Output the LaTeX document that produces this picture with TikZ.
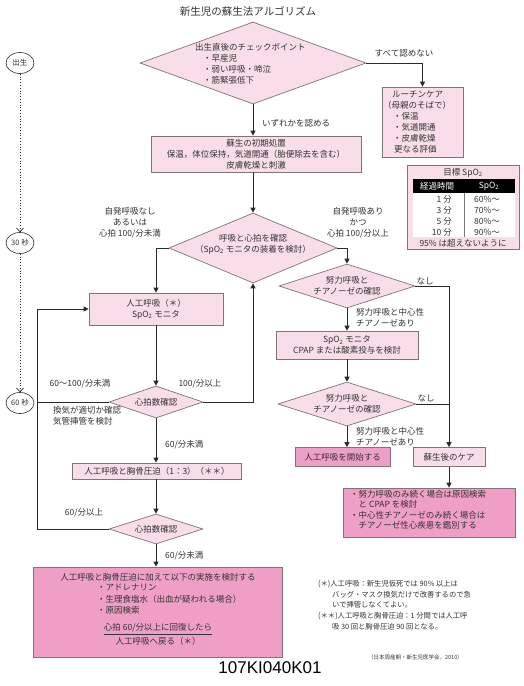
\documentclass[tikz,border=0pt]{standalone}
\usepackage{fontspec}
\newfontfamily\jp{Noto Sans CJK JP}
\newfontfamily\lat{Liberation Sans}
\usetikzlibrary{shapes.geometric,arrows.meta,calc}
\definecolor{pinkL}{HTML}{F9DEE9}
\definecolor{pinkD}{HTML}{EF9FC5}
\definecolor{bordc}{HTML}{7F7479}
\definecolor{linec}{HTML}{2A2A2A}
\definecolor{textc}{HTML}{333333}
\begin{document}
\begin{tikzpicture}[x=1pt,y=-1pt,
  font=\jp\fontsize{8.5}{11}\selectfont, text=textc,
  box/.style={draw=bordc, line width=0.7pt, fill=pinkL, inner sep=0pt, align=center},
  boxd/.style={box, fill=pinkD},
  dia/.style={diamond, draw=bordc, line width=0.7pt, fill=pinkL, inner sep=0pt},
  lbl/.style={inner sep=0pt, align=center},
  arr/.style={draw=linec, line width=1pt, -{Triangle[length=5pt,width=5pt]}},
  ln/.style={draw=linec, line width=1pt},
  tl/.style={ellipse, draw=linec, line width=0.6pt, minimum width=28pt, minimum height=21pt, inner sep=0pt, font=\jp\fontsize{7.5}{9}\selectfont},
  dotarr/.style={draw=linec, line width=0.8pt, dotted, -{Straight Barb[length=3.5pt,width=7pt]}}
]
\useasboundingbox (0,0) rectangle (523,686);
\fill[white] (0,0) rectangle (523,686);

% title
\node[lbl, font=\jp\fontsize{10.5}{12}\selectfont] (title) at (248,11) {新生児の蘇生法アルゴリズム};

% timeline
\node[tl] (t0) at (20,63) {出生};
\node[tl] (t1) at (20,243) {30 秒};
\node[tl] (t2) at (20,403) {60 秒};
\draw[dotarr] (t0) -- (t1);
\draw[dotarr] (t1) -- (t2);

% first diamond
\node[dia, minimum width=226pt, minimum height=82pt] (d1) at (253,63) {};
\node[lbl, align=left, anchor=west] (d1t) at (195,63.5) {出生直後のチェックポイント\\\hspace*{8pt}・早産児\\\hspace*{8pt}・弱い呼吸・啼泣\\\hspace*{8pt}・筋緊張低下};

% routine care
\node[box, minimum width=81pt, minimum height=70pt] (rc) at (422.5,122) {};
\node[lbl, align=left, anchor=west] (rct) at (383,121.5) {\hspace*{9pt}ルーチンケア\\（母親のそばで）\\\hspace*{10pt}・保温\\\hspace*{10pt}・気道開通\\\hspace*{10pt}・皮膚乾燥\\\hspace*{11pt}更なる評価};
\node[lbl] (l1) at (404,53) {すべて認めない};
\draw[arr] (d1.east) -| (rc.north);

% initial steps
\node[box, minimum width=210pt, minimum height=36pt] (b1) at (256,154) {蘇生の初期処置\\保温，体位保持，気道開通（胎便除去を含む）\\皮膚乾燥と刺激};
\draw[arr] (d1.south) -- (d1.south |- b1.north);
\node[lbl] (l2) at (296,123) {いずれかを認める};

% second diamond
\node[dia, minimum width=168pt, minimum height=70pt] (d2) at (253,248) {};
\node[lbl] (d2t) at (253,244) {呼吸と心拍を確認\\（SpO\textsubscript{2} モニタの装着を検討）};
\draw[arr] (d2.north |- b1.south) -- (d2.north);
\node[lbl] (l3) at (130,222.5) {自発呼吸なし\\あるいは\\心拍 100/分未満};
\node[lbl] (l4) at (358,222.5) {自発呼吸あり\\かつ\\心拍 100/分以上};

% left column
\node[box, minimum width=134pt, minimum height=32pt] (b2) at (156,309) {人工呼吸（＊）\\SpO\textsubscript{2} モニタ};
\draw[arr] (d2.west) -| (b2.north);

\node[dia, minimum width=94pt, minimum height=32pt] (d3) at (156,402) {};
\node[lbl] (d3t) at (d3) {心拍数確認};
\draw[arr] (b2.south) -- (d3.north);
\draw[arr] (d3.east) -| (d2.south);
\node[lbl] (l5) at (200,384) {100/分以上};
\coordinate (lp) at (37,0);
\draw[ln] (d3.west) -- (d3.west -| lp);
\node[lbl] (l6) at (80,384) {60〜100/分未満};
\node[lbl, align=left, anchor=west] (l7) at (53,415.5) {換気が適切か確認\\気管挿管を検討};

\node[box, minimum width=169pt, minimum height=16pt] (b3) at (157,471) {人工呼吸と胸骨圧迫（1：3）（＊＊）};
\draw[arr] (d3.south) -- (d3.south |- b3.north);
\node[lbl, anchor=west] (l8) at (165,445) {60/分未満};

\node[dia, minimum width=94pt, minimum height=30pt] (d4) at (156,529) {};
\node[lbl] (d4t) at (d4) {心拍数確認};
\draw[arr] (d4.north |- b3.south) -- (d4.north);
\draw[arr] (d4.west) -- (d4.west -| lp) |- (b2.west);
\node[lbl] (l9) at (84,513) {60/分以上};

\node[boxd, minimum width=249pt, minimum height=90pt] (b4) at (157.5,612) {};
\draw[arr] (d4.south) -- (d4.south |- b4.north);
\node[lbl, anchor=west] (l10) at (165,556) {60/分未満};
\node[lbl] (b4a) at (158,577) {人工呼吸と胸骨圧迫に加えて以下の実施を検討する};
\node[lbl, align=left, anchor=west, font=\jp\fontsize{8.5}{11.5}\selectfont] (b4b) at (97,599.5) {・アドレナリン\\・生理食塩水（出血が疑われる場合）\\・原因検索};
\node[lbl] (b4c) at (158,629) {\underline{心拍 60/分以上に回復したら}};
\node[lbl] (b4d) at (158,641) {人工呼吸へ戻る（＊）};

% right column
\node[dia, minimum width=136pt, minimum height=44pt] (d5) at (347,286) {};
\node[lbl] (d5t) at (d5) {努力呼吸と\\チアノーゼの確認};
\draw[arr] (d2.east) -| (d5.north);
\node[box, minimum width=142pt, minimum height=28pt] (b5) at (347,345) {SpO\textsubscript{2} モニタ\\CPAP または酸素投与を検討};
\draw[arr] (d5.south) -- (b5.north);
\node[lbl, align=left, anchor=west] (l11) at (356,318) {努力呼吸と中心性\\チアノーゼあり};
\node[dia, minimum width=138pt, minimum height=44pt] (d6) at (347,404) {};
\node[lbl] (d6t) at (d6) {努力呼吸と\\チアノーゼの確認};
\draw[arr] (b5.south) -- (d6.north);
\node[boxd, minimum width=95pt, minimum height=19pt] (b6) at (342.5,457) {人工呼吸を開始する};
\draw[arr] (d6.south) -- (d6.south |- b6.north);
\node[lbl, align=left, anchor=west] (l12) at (356,436.5) {努力呼吸と中心性\\チアノーゼあり};
\node[box, minimum width=72pt, minimum height=19pt] (b7) at (449,457) {蘇生後のケア};
\draw[arr] (d5.east) -| (b7.north);
\draw[ln] (d6.east) -- (d6.east -| b7.north);
\node[lbl] (l13) at (425,281) {なし};
\node[lbl] (l14) at (426,398) {なし};
\node[boxd, minimum width=172pt, minimum height=49pt] (b8) at (429,512.5) {};
\node[lbl, align=left, anchor=west, font=\jp\fontsize{8.5}{10.5}\selectfont] (b8t) at (350,510) {・努力呼吸のみ続く場合は原因検索\\\hspace*{8.5pt}と CPAP を検討\\・中心性チアノーゼのみ続く場合は\\\hspace*{8.5pt}チアノーゼ性心疾患を鑑別する};
\draw[arr] (b7.south) -- (b7.south |- b8.north);

% target SpO2 table
\node[box, minimum width=112pt, minimum height=84pt] (tb) at (463,207) {};
\node[lbl] (tbt) at (463,172.5) {目標 SpO\textsubscript{2}};
\fill[black] (413,179) rectangle (515,193);
\fill[white] (413,193) rectangle (515,237);
\draw[bordc, line width=0.6pt] (464,193) -- (464,237);
\node[lbl, text=white] (th1) at (437,186) {経過時間};
\node[lbl, text=white] (th2) at (489,186) {SpO\textsubscript{2}};
\node[lbl, anchor=east] (r1a) at (452,199) {1 分};
\node[lbl, anchor=east] (r2a) at (452,210) {3 分};
\node[lbl, anchor=east] (r3a) at (452,221) {5 分};
\node[lbl, anchor=east] (r4a) at (452,232) {10 分};
\node[lbl, anchor=west] (r1b) at (474,199) {60\%〜};
\node[lbl, anchor=west] (r2b) at (474,210) {70\%〜};
\node[lbl, anchor=west] (r3b) at (474,221) {80\%〜};
\node[lbl, anchor=west] (r4b) at (474,232) {90\%〜};
\node[lbl] (tbf) at (463,243.5) {95\% は超えないように};

% footnotes
\node[lbl, align=left, anchor=north west, font=\jp\fontsize{7.3}{10.8}\selectfont] (fn1) at (318,580) {(＊)人工呼吸：新生児仮死では 90\% 以上は\\\hspace*{14pt}バッグ・マスク換気だけで改善するので急\\\hspace*{14pt}いで挿管しなくてよい。\\(＊＊)人工呼吸と胸骨圧迫：1 分間では人工呼\\\hspace*{14pt}吸 30 回と胸骨圧迫 90 回となる。};
\node[lbl, anchor=east, font=\jp\fontsize{5.5}{7}\selectfont] (cit) at (463,657) {（日本周産期・新生児医学会，2010）};
\node[lbl, font=\lat\fontsize{17}{20}\selectfont, text=black] (code) at (270,668) {107KI040K01};
\end{tikzpicture}
\end{document}
